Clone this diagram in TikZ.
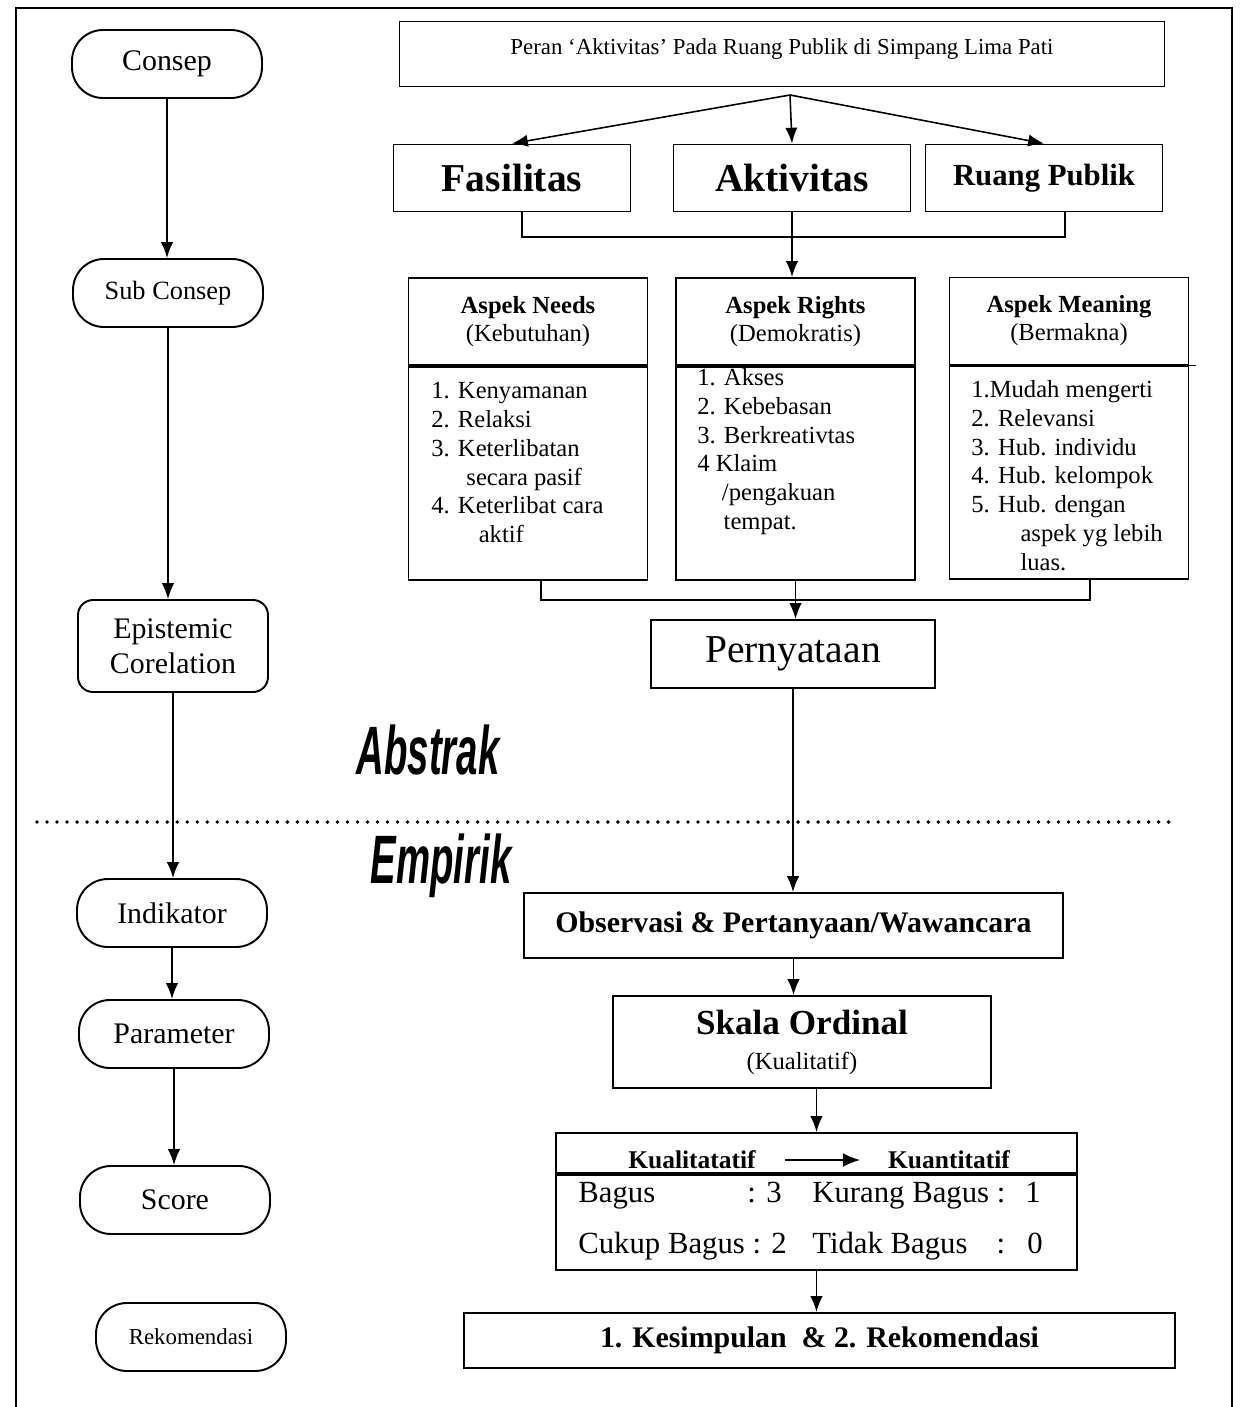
\documentclass[tikz,border=0pt]{standalone}
\usepackage{fontspec}
\setmainfont{Liberation Serif}
\setsansfont{Liberation Sans}
\usetikzlibrary{arrows.meta}

\tikzset{>={Latex[length=9pt,width=7pt]}}
\def\px{0.02cm}
\tikzstyle{frame}=[line width=0.9pt]
\tikzstyle{conn}=[->,line width=0.9pt]
\tikzstyle{stad}=[draw,line width=1.1pt,rounded corners=0.62cm,minimum width=190*\px,minimum height=68*\px,font=\fontsize{17}{20}\selectfont]
\tikzstyle{box}=[draw,line width=1.1pt,inner sep=2pt]
\tikzstyle{bigbox}=[box,minimum width=237*\px,minimum height=67*\px,font=\fontsize{22.5}{26}\selectfont\bfseries]
\tikzstyle{asphead}=[box,minimum width=239*\px,minimum height=87*\px,align=center,font=\fontsize{14}{16}\selectfont]
\tikzstyle{asplist}=[box,minimum width=239*\px,minimum height=213*\px,anchor=north]
\tikzstyle{listtxt}=[anchor=north west,inner sep=0pt,align=left,font=\fontsize{14}{16.4}\selectfont]
\tikzstyle{cell}=[inner sep=0pt,font=\fontsize{17.5}{20}\selectfont]
\tikzstyle{wordart}=[font=\sffamily\bfseries\itshape\fontsize{39}{44}\selectfont,xscale=0.56]
\tikzstyle{dotline}=[line width=2.2pt,line cap=round,dash pattern=on 0pt off 5.7pt]

\begin{document}
\begin{tikzpicture}[x=\px,y=-\px]
  \useasboundingbox (0,0) rectangle (1246,1407);
  \draw[frame] (16,1407) -- (16,8) -- (1232,8) -- (1232,1407);

  % LEFT COLUMN
  \node[stad] (consep) at (167,64) {Consep};
  \node[stad,font=\fontsize{15}{18}\selectfont] (subc) at (168,293) {Sub Consep};
  \node[stad,rounded corners=0.3cm,minimum height=92*\px,align=center] (epis) at (173,646) {Epistemic\\Corelation};
  \node[stad] (indik) at (172,913) {Indikator};
  \node[stad] (param) at (174,1034) {Parameter};
  \node[stad] (score) at (175,1200) {Score};
  \node[stad,font=\fontsize{13}{15}\selectfont] (rekom) at (191,1337) {Rekomendasi};
  \draw[conn] (consep.south) -- (consep.south |- subc.north);
  \draw[conn] (subc.south) -- (subc.south |- epis.north);
  \draw[conn] (epis.south) -- (epis.south |- indik.north);
  \draw[conn] (indik.south) -- (indik.south |- param.north);
  \draw[conn] (param.south) -- (param.south |- score.north);

  % TOP: TITLE AND THREE PARTS
  \node[box,minimum width=765*\px,minimum height=65*\px,font=\fontsize{13}{15}\selectfont,text height=9pt,text depth=8pt] (judul) at (782,54) {Peran ‘Aktivitas’ Pada Ruang Publik di Simpang Lima Pati};
  \node[bigbox] (fas) at (512,178) {Fasilitas};
  \node[bigbox] (akt) at (792,178) {Aktivitas};
  \node[bigbox,font=\fontsize{17.5}{20}\selectfont\bfseries] (rp) at (1044,178) {Ruang Publik};
  \coordinate (fork) at (790,95);
  \draw[conn] (fork) -- (fas.north);
  \draw[conn] (fork) -- (akt.north);
  \draw[conn] (fork) -- (rp.north);
  \coordinate (j1) at (790,237);
  \draw[conn,-] ([xshift=0.2cm]fas.south) |- (j1) -| ([xshift=0.42cm]rp.south);

  % ASPECTS
  \node[asphead] (needsH) at (528,321.5) {\textbf{Aspek Needs}\\(Kebutuhan)};
  \node[asplist] (needsL) at (needsH.south) {};
  \node[asphead] (rightsH) at (795.5,321.5) {\textbf{Aspek Rights}\\(Demokratis)};
  \node[asplist] (rightsL) at (rightsH.south) {};
  \node[asphead] (meanH) at (1069,321) {\textbf{Aspek Meaning}\\(Bermakna)};
  \node[asplist] (meanL) at (meanH.south) {};
  \draw[line width=1.1pt] (meanH.south east) -- ++(7,0);
  \draw[conn] (akt.south) -- (akt.south |- rightsH.north);

  \node[listtxt] (needsT) at (431,382) {1. Kenyamanan\\2. Relaksi\\3. Keterlibatan\\\hspace*{20pt}secara pasif\\4. Keterlibat cara\\\hspace*{27pt}aktif};
  \node[listtxt] (rightsT) at (697,368) {1. Akses\\2. Kebebasan\\3. Berkreativtas\\4 Klaim\\\hspace*{14pt}/pengakuan\\\hspace*{15pt}tempat.};
  \node[listtxt] (meanT) at (971,380) {1.Mudah mengerti\\2. Relevansi\\3. Hub. individu\\4. Hub. kelompok\\5. Hub. dengan\\\hspace*{28pt}aspek yg lebih\\\hspace*{28pt}luas.};

  \node[box,minimum width=284*\px,minimum height=68*\px,font=\fontsize{22.5}{26}\selectfont] (pern) at (793,654) {Pernyataan};
  \coordinate (j2) at (795,600);
  \draw[conn,-] ([xshift=0.26cm]needsL.south) |- (j2) -| ([xshift=0.42cm]meanL.south);
  \draw[conn] (rightsL.south) -- (rightsL.south |- pern.north);

  % ABSTRAK / EMPIRIK
  \node[wordart] (abstrak) at (428,750) {Abstrak};
  \draw[dotline] (37,822) -- (1178,822);
  \node[wordart] (empirik) at (441,866) {Empirik};

  % BOTTOM
  \node[box,minimum width=539*\px,minimum height=65*\px,font=\fontsize{17}{20}\selectfont\bfseries] (obs) at (793.5,925.5) {Observasi \& Pertanyaan/Wawancara};
  \node[box,minimum width=378*\px,minimum height=92*\px,align=center,font=\fontsize{14}{20}\selectfont] (skala) at (802,1042) {{\fontsize{20}{20}\selectfont\bfseries Skala Ordinal}\\(Kualitatif)};
  \node[box,minimum width=521*\px,minimum height=40*\px] (tabH) at (816.5,1153) {};
  \node[box,minimum width=521*\px,minimum height=95*\px,anchor=north] (tabB) at (tabH.south) {};
  \node[font=\fontsize{14.5}{17}\selectfont\bfseries] (kual) at (692,1160) {Kualitatatif};
  \node[font=\fontsize{14.5}{17}\selectfont\bfseries] (kuan) at (949,1160) {Kuantitatif};
  \draw[-{Latex[length=10pt,width=8pt]},line width=1.6pt,shorten <=0.46cm,shorten >=0.43cm] (kual) -- (kuan);
  \node[cell,anchor=base west] (bagus) at (578,1202) {Bagus};
  \node[cell,anchor=base east] (v3) at (782,1202) {: 3};
  \node[cell,anchor=base west] (kurang) at (812,1202) {Kurang Bagus :};
  \node[cell,anchor=base] (v1) at (1033,1202) {1};
  \node[cell,anchor=base west] (cukup) at (578,1253) {Cukup Bagus : 2};
  \node[cell,anchor=base west] (tidak) at (812,1253) {Tidak Bagus};
  \node[cell,anchor=base] (col0) at (1001,1253) {:};
  \node[cell,anchor=base] (v0) at (1035,1253) {0};
  \node[box,minimum width=711*\px,minimum height=55*\px,font=\fontsize{17}{20}\selectfont\bfseries] (kes) at (819.5,1340.5) {1. Kesimpulan\ \ \& 2. Rekomendasi};
  \draw[conn] (pern.south) -- (pern.south |- obs.north);
  \draw[conn] (obs.south) -- (obs.south |- skala.north);
  \draw[conn] (tabH.north |- skala.south) -- (tabH.north);
  \draw[conn] (tabB.south) -- (tabB.south |- kes.north);

\end{tikzpicture}
\end{document}
